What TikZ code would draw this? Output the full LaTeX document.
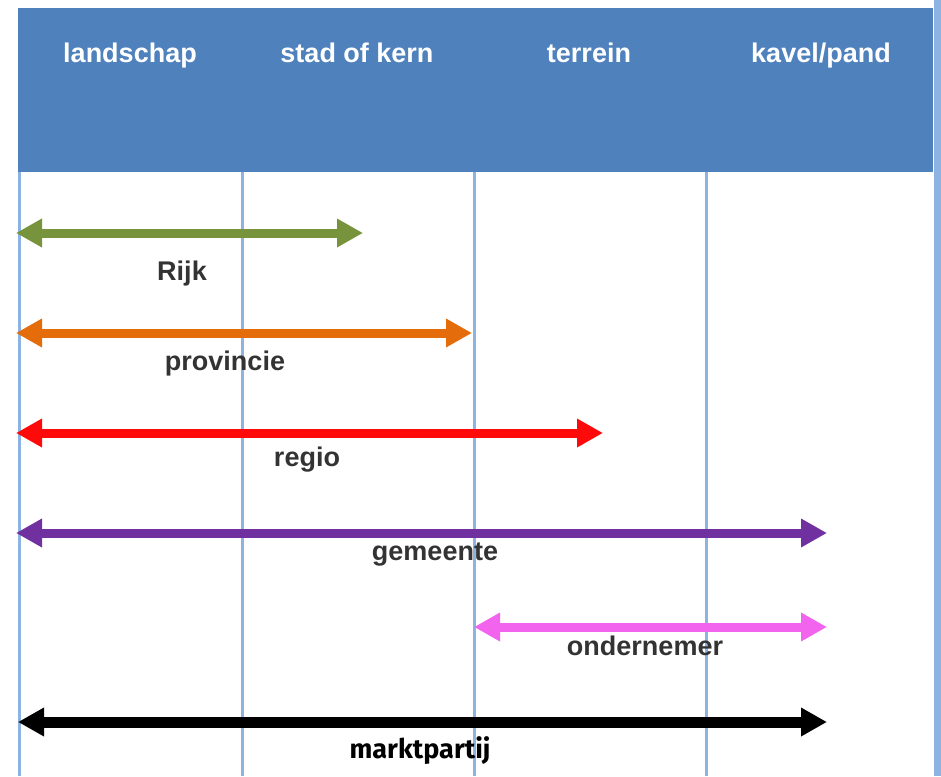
\documentclass[tikz,border=0pt]{standalone}
\usepackage{fontspec}
\setmainfont{Liberation Sans}
\newfontfamily\mkfont{Fira Sans}
\usetikzlibrary{arrows.meta}
\definecolor{hdrblue}{HTML}{4F81BD}
\definecolor{gridblue}{HTML}{8DB3E2}
\definecolor{cgreen}{HTML}{77933C}
\definecolor{corange}{HTML}{E46C0A}
\definecolor{cred}{HTML}{FF0A0A}
\definecolor{cpurple}{HTML}{7030A0}
\definecolor{cpink}{HTML}{F264EE}
\definecolor{txtgray}{HTML}{333333}
\tikzset{
  hdr/.style={text=white,font=\fontsize{27}{30}\selectfont\bfseries,inner sep=0pt,anchor=base},
  lbl/.style={text=txtgray,font=\fontsize{27}{30}\selectfont\bfseries,inner sep=0pt,anchor=base},
  gridline/.style={draw=gridblue,line width=3pt},
  span/.style={line width=9pt,{Triangle[length=26pt,width=27pt]}-{Triangle[length=26pt,width=27pt]}}
}
\begin{document}
\begin{tikzpicture}[x=1pt,y=-1pt]
\useasboundingbox (0,0) rectangle (941,776);
\fill[white] (0,0) rectangle (941,776);
% header
\fill[hdrblue] (18,8) rectangle (933,172);
% grid lines
\foreach \xx in {19,242,474,706} \draw[gridline] (\xx,172) -- (\xx,776);
\fill[gridblue] (934,0) rectangle (941,776);
% header texts
\node[hdr] (h1) at (130,63) {landschap};
\node[hdr] (h2) at (357,63) {stad of kern};
\node[hdr] (h3) at (589,63) {terrein};
\node[hdr] (h4) at (821,63) {kavel/pand};
% arrow ends
\coordinate (gL) at (16,233); \coordinate (gR) at (363,233);
\coordinate (oL) at (16,333); \coordinate (oR) at (472,333);
\coordinate (rL) at (16,433); \coordinate (rR) at (603,433);
\coordinate (pL) at (16,533); \coordinate (pR) at (827,533);
\coordinate (kL) at (474,627); \coordinate (kR) at (827,627);
\coordinate (bL) at (18,722); \coordinate (bR) at (827,722);
\draw[span,cgreen] (gL) -- (gR);
\draw[span,corange] (oL) -- (oR);
\draw[span,cred] (rL) -- (rR);
\draw[span,cpurple] (pL) -- (pR);
\draw[span,cpink] (kL) -- (kR);
\draw[span,black,line width=11pt] (bL) -- (bR);
% labels
\node[lbl] (l1) at (182,280) {Rijk};
\node[lbl] (l2) at (225,370) {provincie};
\node[lbl] (l3) at (307,466) {regio};
\node[lbl] (l4) at (435,560) {gemeente};
\node[lbl] (l5) at (645,655) {ondernemer};
\node[inner sep=0pt,anchor=base,font=\mkfont\fontsize{27}{30}\selectfont\bfseries] (l6) at (420,758) {marktpartij};
\end{tikzpicture}
\end{document}
